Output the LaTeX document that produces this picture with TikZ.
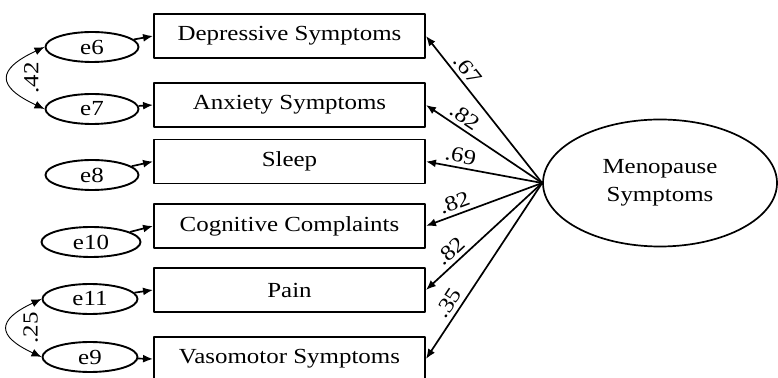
\documentclass[tikz,border=0pt]{standalone}
\usepackage{fontspec}
\setmainfont{Liberation Serif}[FakeStretch=1.16]
\usepackage{tikz}
\usetikzlibrary{arrows.meta,shapes.geometric}

\begin{document}
\begin{tikzpicture}[x=1pt,y=1pt,>={Latex[length=10pt,width=8pt]},line join=round,
  font=\fontsize{21.5}{28}\selectfont,
  obs/.style={draw,line width=1.9pt,minimum width=271pt,minimum height=44pt,inner sep=0pt},
  err/.style={draw,ellipse,line width=1.9pt,minimum width=93pt,minimum height=30pt,inner sep=0pt},
  load/.style={->,line width=1.7pt},
  cov/.style={<->,line width=0.9pt},
  coef/.style={sloped,above,pos=0.72,inner sep=4pt},
  covlab/.style={xshift=23pt,rotate=90,inner sep=1pt}]
  \useasboundingbox (0,0) rectangle (778,377);
  % latent factor
  \node[draw,ellipse,line width=1.7pt,minimum width=234pt,minimum height=127pt,align=center] (meno) at (660,194) {Menopause\\Symptoms};
  % indicators
  \node[obs] (dep) at (289.5,341) {Depressive Symptoms};
  \node[obs] (anx) at (289.5,272) {Anxiety Symptoms};
  \node[obs] (slp) at (289.5,215.5) {Sleep};
  \node[obs] (cog) at (289.5,151) {Cognitive Complaints};
  \node[obs] (pain) at (289.5,87) {Pain};
  \node[obs] (vaso) at (289.5,18) {Vasomotor Symptoms};
  % error terms
  \node[err] (e6) at (92,330) {e6};
  \node[err] (e7) at (92,268) {e7};
  \node[err] (e8) at (92,202) {e8};
  \node[err,minimum width=99pt] (e10) at (91,135) {e10};
  \node[err,minimum width=95pt] (e11) at (90,78) {e11};
  \node[err,minimum width=95pt] (e9) at (90,20) {e9};
  % loadings
  \draw[load] (meno.west) -- node[coef] {.67} (dep.east);
  \draw[load] (meno.west) -- node[coef] {.82} (anx.east);
  \draw[load] (meno.west) -- node[coef] {.69} (slp.east);
  \draw[load] (meno.west) -- node[coef] {.82} (cog.east);
  \draw[load] (meno.west) -- node[coef] {.82} (pain.east);
  \draw[load] (meno.west) -- node[coef] {.35} (vaso.east);
  % errors to indicators
  \draw[load] (e6) -- (dep.west);
  \draw[load] (e7) -- (anx.west);
  \draw[load] (e8) -- (slp.west);
  \draw[load] (e10) -- (cog.west);
  \draw[load] (e11) -- (pain.west);
  \draw[load] (e9) -- (vaso.west);
  % covariances
  \draw[cov] (e6.west) to[out=205,in=155,looseness=2.2] node[covlab] {.42} (e7.west);
  \draw[cov] (e11.west) to[out=205,in=155,looseness=2.2] node[covlab] {.25} (e9.west);
\end{tikzpicture}
\end{document}
